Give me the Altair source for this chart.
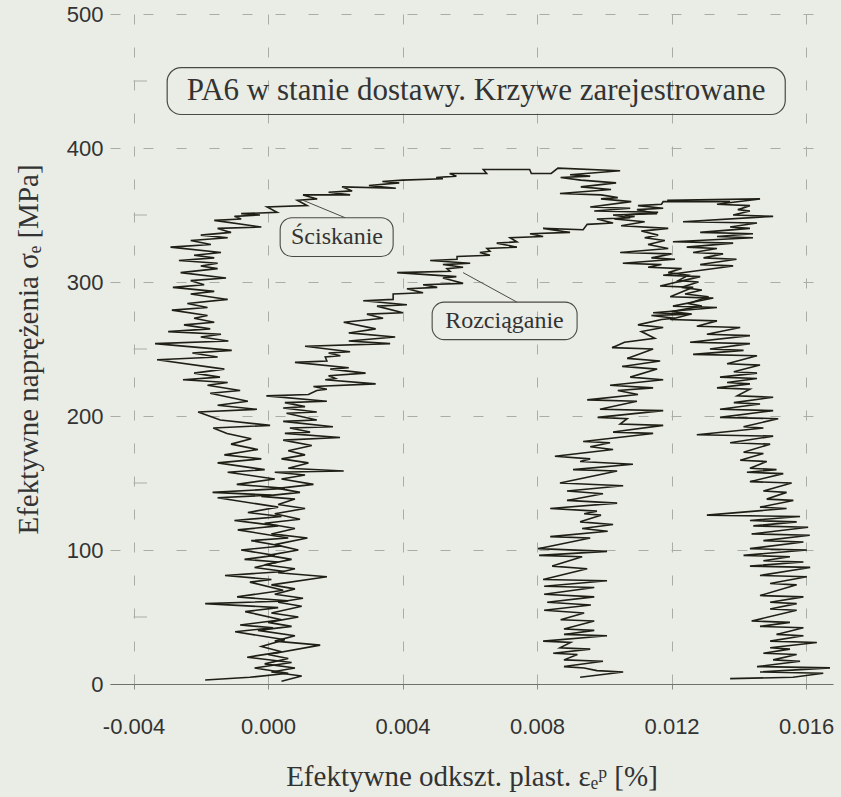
import altair as alt
import pandas as pd

# ---------------- data ----------------
# Compression curve ("Ściskanie"): strain [%], effective stress [MPa], in drawing order
compression_pts = [
    (-0.00187, 3), (-0.00054, 5), (0.00060, 8), (-0.00040, 12), (0.00070, 16), (-0.00062, 20),
    (0.00040, 24), (-0.00020, 28), (0.00050, 33), (-0.00098, 39), (0.00015, 42), (-0.00083, 44),
    (0.00040, 48), (-0.00068, 54), (0.00030, 57), (-0.00187, 60), (0.00060, 62), (-0.00092, 65),
    (0.00045, 70), (-0.00054, 76), (0.00010, 78), (-0.00128, 81), (0.00050, 84), (-0.00040, 87),
    (0.00030, 91), (-0.00070, 93), (0.00020, 96), (-0.00080, 100), (0.00040, 103), (-0.00050, 107),
    (0.00060, 109), (-0.00090, 115), (0.00030, 118), (-0.00100, 122), (0.00040, 125), (-0.00060, 128),
    (0.00030, 132), (-0.00150, 139), (0.00010, 141), (-0.00165, 143), (0.00050, 146), (-0.00093, 149),
    (0.00020, 153), (-0.00120, 158), (-0.00010, 160), (-0.00150, 165), (-0.00020, 168), (-0.00130, 171),
    (-0.00030, 175), (-0.00110, 179), (-0.00050, 183), (-0.00122, 187), (-0.00163, 191), (0.00006, 193),
    (-0.00142, 197), (-0.00208, 203), (-0.00033, 205), (-0.00150, 208), (-0.00060, 211), (-0.00172, 217),
    (-0.00083, 219), (-0.00180, 223), (-0.00120, 225), (-0.00253, 227), (-0.00143, 229), (-0.00220, 232),
    (-0.00130, 235), (-0.00330, 242), (-0.00150, 244), (-0.00225, 247), (-0.00108, 249), (-0.00336, 254),
    (-0.00118, 256), (-0.00200, 259), (-0.00140, 261), (-0.00297, 263), (-0.00172, 265), (-0.00250, 268),
    (-0.00160, 270), (-0.00220, 273), (-0.00180, 275), (-0.00286, 279), (-0.00180, 281), (-0.00240, 284),
    (-0.00120, 287), (-0.00230, 291), (-0.00160, 293), (-0.00283, 296), (-0.00190, 298), (-0.00230, 301),
    (-0.00125, 303), (-0.00260, 307), (-0.00150, 310), (-0.00200, 312), (-0.00150, 314), (-0.00265, 316),
    (-0.00160, 318), (-0.00220, 320), (-0.00140, 322), (-0.00290, 326), (-0.00170, 328), (-0.00230, 331),
    (-0.00120, 333), (-0.00200, 335), (-0.00110, 337), (-0.00150, 340), (-0.00020, 341), (-0.00160, 346),
    (-0.00080, 347), (-0.00100, 349), (-0.00024, 350), (-0.00080, 351), (0.00027, 352), (-0.00003, 356),
    (0.00116, 357), (0.00087, 361), (0.00146, 362), (0.00104, 365), (0.00244, 365), (0.00180, 367),
    (0.00250, 368), (0.00220, 371), (0.00380, 370), (0.00300, 372), (0.00390, 374), (0.00340, 375),
    (0.00400, 376), (0.00520, 377), (0.00500, 378), (0.00560, 379), (0.00540, 381), (0.00650, 381),
    (0.00640, 384), (0.00778, 384), (0.00783, 381), (0.00842, 381), (0.00862, 385), (0.01047, 383),
    (0.00898, 380), (0.00958, 379), (0.00870, 378), (0.00930, 376), (0.01035, 374), (0.00930, 371),
    (0.01020, 369), (0.00868, 366), (0.00990, 365), (0.01040, 363), (0.00990, 362), (0.01080, 360),
    (0.00958, 356), (0.01077, 355), (0.00970, 353), (0.01160, 352), (0.01060, 350), (0.01090, 349),
    (0.01030, 347), (0.01120, 345), (0.01050, 342), (0.01190, 340), (0.01110, 338), (0.01160, 335),
    (0.01120, 333), (0.01180, 331), (0.01130, 328), (0.01190, 325), (0.01047, 322), (0.01200, 321),
    (0.01140, 318), (0.01210, 317), (0.01055, 314), (0.01170, 313), (0.01130, 311), (0.01230, 310),
    (0.01190, 307), (0.01250, 305), (0.01220, 301), (0.01280, 300), (0.01230, 296), (0.01290, 294),
    (0.01240, 291), (0.01310, 289), (0.01250, 284), (0.01290, 282), (0.01200, 278), (0.01260, 276),
    (0.01140, 275), (0.01210, 273), (0.01170, 272), (0.01100, 268), (0.01175, 266), (0.01110, 263),
    (0.01150, 258), (0.01060, 255), (0.01023, 251), (0.01145, 250), (0.01068, 243), (0.01166, 241),
    (0.01053, 237), (0.01157, 235), (0.01077, 229), (0.01175, 227), (0.01017, 223), (0.01145, 221),
    (0.01040, 219), (0.01100, 216), (0.00949, 212), (0.01097, 211), (0.00987, 205), (0.01175, 204),
    (0.00980, 199), (0.01068, 198), (0.01047, 194), (0.01175, 193), (0.01026, 188), (0.01145, 187),
    (0.00937, 181), (0.01017, 180), (0.00958, 177), (0.01026, 175), (0.00853, 170), (0.00958, 168),
    (0.00928, 166), (0.01085, 164), (0.00907, 160), (0.01038, 159), (0.00868, 150), (0.01056, 148),
    (0.00889, 144), (0.00996, 142), (0.00889, 137), (0.01038, 135), (0.00839, 131), (0.00978, 129),
    (0.00940, 127), (0.00990, 126), (0.00928, 121), (0.01026, 119), (0.00934, 116), (0.01010, 114),
    (0.00839, 110), (0.00958, 109), (0.00803, 101), (0.01008, 99), (0.00806, 96), (0.00934, 95),
    (0.00845, 88), (0.00949, 86), (0.00818, 78), (0.01008, 77), (0.00821, 73), (0.00970, 72),
    (0.00821, 67), (0.00970, 65), (0.00830, 61), (0.00960, 59), (0.00821, 55), (0.00940, 53),
    (0.00870, 48), (0.00970, 47), (0.00880, 41), (0.00970, 40), (0.00880, 37), (0.01008, 36),
    (0.00818, 32), (0.00900, 31), (0.00868, 27), (0.00958, 26), (0.00848, 23), (0.00920, 22),
    (0.00880, 18), (0.00996, 17), (0.00880, 13), (0.00940, 12), (0.00978, 10), (0.01056, 9),
    (0.00928, 5),
]

# Tension curve ("Rozciąganie")
tension_pts = [
    (0.00040, 2), (0.00100, 6), (0.00010, 9), (0.00080, 12), (-0.00010, 15), (0.00060, 19),
    (0.00000, 22), (0.00155, 29), (0.00020, 32), (0.00080, 36), (-0.00030, 40), (0.00070, 43),
    (0.00000, 46), (0.00090, 50), (0.00010, 53), (0.00100, 58), (0.00030, 61), (0.00104, 64),
    (0.00020, 67), (0.00080, 71), (0.00010, 74), (0.00175, 80), (0.00030, 83), (0.00080, 86),
    (-0.00010, 89), (0.00070, 93), (0.00000, 96), (0.00090, 100), (0.00020, 104), (0.00117, 109),
    (0.00010, 112), (0.00080, 116), (-0.00010, 120), (0.00095, 123), (0.00020, 127), (0.00110, 131),
    (0.00030, 134), (0.00080, 138), (-0.00020, 140), (0.00095, 143), (0.00030, 146), (0.00135, 149),
    (0.00040, 153), (0.00110, 156), (0.00020, 158), (0.00225, 159), (0.00060, 161), (0.00120, 165),
    (0.00040, 168), (0.00110, 171), (0.00060, 174), (0.00130, 178), (0.00045, 182), (0.00214, 184),
    (0.00050, 187), (0.00125, 188), (0.00065, 191), (0.00193, 192), (0.00045, 196), (0.00145, 197),
    (0.00055, 202), (0.00145, 203), (0.00045, 206), (0.00110, 207), (0.00050, 210), (0.00175, 211),
    (-0.00005, 215), (0.00120, 216), (0.00145, 219), (0.00175, 220), (0.00135, 222), (0.00320, 224),
    (0.00170, 227), (0.00200, 228), (0.00180, 230), (0.00290, 232), (0.00185, 235), (0.00240, 236),
    (0.00080, 240), (0.00175, 241), (0.00170, 244), (0.00215, 245), (0.00180, 247), (0.00244, 248),
    (0.00110, 252), (0.00363, 254), (0.00240, 256), (0.00378, 259), (0.00240, 262), (0.00320, 265),
    (0.00225, 270), (0.00342, 273), (0.00294, 276), (0.00401, 277), (0.00324, 282), (0.00413, 283),
    (0.00283, 286), (0.00372, 287), (0.00372, 291), (0.00461, 292), (0.00413, 295), (0.00503, 296),
    (0.00461, 298), (0.00580, 299), (0.00520, 303), (0.00560, 304), (0.00384, 307), (0.00541, 308),
    (0.00532, 310), (0.00580, 311), (0.00520, 313), (0.00601, 314), (0.00482, 316), (0.00562, 317),
    (0.00562, 319), (0.00660, 320), (0.00630, 322), (0.00660, 323), (0.00651, 325), (0.00740, 326),
    (0.00680, 329), (0.00740, 330), (0.00720, 333), (0.00818, 334), (0.00779, 336), (0.00898, 337),
    (0.00818, 340), (0.00937, 339), (0.00949, 343), (0.01026, 344), (0.00978, 347), (0.01077, 348),
    (0.01026, 350), (0.01157, 351), (0.01097, 354), (0.01175, 355), (0.01100, 357), (0.01170, 358),
    (0.01175, 360), (0.01374, 360), (0.01187, 361), (0.01463, 362), (0.01335, 358), (0.01433, 357),
    (0.01397, 354), (0.01433, 353), (0.01383, 350), (0.01502, 349), (0.01234, 345), (0.01454, 344),
    (0.01374, 341), (0.01433, 340), (0.01285, 337), (0.01442, 336), (0.01335, 334), (0.01442, 333),
    (0.01204, 330), (0.01383, 329), (0.01245, 326), (0.01335, 325), (0.01264, 322), (0.01353, 321),
    (0.01295, 318), (0.01393, 317), (0.01285, 313), (0.01383, 312), (0.01175, 305), (0.01285, 304),
    (0.01166, 297), (0.01264, 296), (0.01196, 289), (0.01324, 288), (0.01204, 282), (0.01335, 281),
    (0.01145, 277), (0.01255, 276), (0.01196, 272), (0.01335, 271), (0.01275, 267), (0.01404, 266),
    (0.01305, 261), (0.01433, 260), (0.01255, 255), (0.01433, 254), (0.01314, 250), (0.01414, 249),
    (0.01264, 246), (0.01454, 245), (0.01365, 239), (0.01463, 238), (0.01385, 233), (0.01454, 232),
    (0.01344, 229), (0.01454, 228), (0.01365, 225), (0.01433, 224), (0.01335, 221), (0.01433, 220),
    (0.01395, 215), (0.01502, 214), (0.01385, 210), (0.01463, 209), (0.01344, 205), (0.01502, 204),
    (0.01344, 199), (0.01517, 198), (0.01414, 192), (0.01473, 191), (0.01275, 186), (0.01502, 185),
    (0.01374, 180), (0.01493, 179), (0.01414, 173), (0.01473, 172), (0.01404, 167), (0.01483, 166),
    (0.01433, 161), (0.01512, 160), (0.01424, 158), (0.01532, 157), (0.01433, 151), (0.01557, 150),
    (0.01473, 144), (0.01542, 143), (0.01483, 138), (0.01562, 137), (0.01463, 132), (0.01542, 131),
    (0.01305, 126), (0.01582, 125), (0.01433, 122), (0.01572, 121), (0.01443, 118), (0.01606, 117),
    (0.01438, 112), (0.01611, 111), (0.01473, 107), (0.01592, 106), (0.01433, 101), (0.01602, 100),
    (0.01414, 96), (0.01552, 95), (0.01473, 92), (0.01592, 91), (0.01433, 88), (0.01612, 87),
    (0.01463, 81), (0.01602, 80), (0.01493, 75), (0.01572, 74), (0.01463, 66), (0.01592, 65),
    (0.01493, 61), (0.01572, 60), (0.01493, 56), (0.01572, 55), (0.01438, 47), (0.01552, 46),
    (0.01463, 43), (0.01592, 42), (0.01512, 37), (0.01592, 36), (0.01493, 32), (0.01632, 31),
    (0.01493, 27), (0.01552, 26), (0.01473, 23), (0.01572, 22), (0.01502, 18), (0.01582, 17),
    (0.01454, 13), (0.01671, 12), (0.01463, 9), (0.01651, 8), (0.01561, 5), (0.01374, 4),
]

x_ticks = [-0.004, 0.000, 0.004, 0.008, 0.012, 0.016]
y_ticks = [0, 100, 200, 300, 400, 500]
y_minor = [50, 150, 250, 350, 450]

title_text = "PA6 w stanie dostawy. Krzywe zarejestrowane"
labels = ["Ściskanie", "Rozciąganie"]
label_x = [0.00205, 0.00703]
label_y = [333.5, 271]
box_x1 = [0.00036, 0.00488]
box_x2 = [0.00372, 0.00919]
box_y1 = [319, 257]
box_y2 = [348, 285]
lead_x1 = [0.00229, 0.00740]
lead_y1 = [348, 285]
lead_x2 = [0.00104, 0.00580]
lead_y2 = [361, 307]

# ---------------- build ----------------
BG = "#e9ede5"
INK = "#1f1f16"
TXT = "#333333"
GRID = "#a9ada5"

rows = []
for name, pts in (("Ściskanie", compression_pts), ("Rozciąganie", tension_pts)):
    for i, (xv, yv) in enumerate(pts):
        rows.append({"curve": name, "i": i, "x": xv, "y": yv})
df = pd.DataFrame(rows)

xs = alt.Scale(domain=[-0.0047, 0.0168], nice=False, zero=False)
ys = alt.Scale(domain=[0, 500], nice=False, zero=False)

x_axis = alt.Axis(
    values=x_ticks, labelExpr="replace(format(datum.value, '.3f'), '\u2212', '-')",
    title="Efektywne odkszt. plast.  εₑᵖ  [%]",
    grid=True, gridDash=[10, 23], gridColor=GRID, gridWidth=1,
    domain=True, domainColor="#6f726c", domainWidth=1,
    ticks=True, tickSize=5, tickColor="#8a8d86",
    labelFont="Liberation Sans", labelFontSize=22, labelColor=TXT, labelPadding=27,
    titleFont="Liberation Serif", titleFontSize=29, titleFontWeight="normal", titleColor=TXT,
    titleY=92, titleBaseline="middle",
)
y_axis = alt.Axis(
    values=y_ticks, title="Efektywne naprężenia  σₑ  [MPa]",
    grid=True, gridDash=[10, 23], gridColor=GRID, gridWidth=1,
    domain=False, ticks=False,
    labelFont="Liberation Sans", labelFontSize=22, labelColor=TXT, labelPadding=7,
    titleFont="Liberation Serif", titleFontSize=29, titleFontWeight="normal", titleColor=TXT,
    titleX=-82, titleBaseline="middle",
)

curves = alt.Chart(df).mark_line(color=INK, strokeWidth=1.6, clip=True).encode(
    x=alt.X("x:Q", scale=xs, axis=x_axis),
    y=alt.Y("y:Q", scale=ys, axis=y_axis),
    detail="curve:N",
    order="i:Q",
)

minor = alt.Chart(pd.DataFrame({"y": y_minor})).mark_rule(color=GRID, strokeWidth=1).encode(
    x=alt.datum(-0.0040, scale=xs), x2=alt.datum(-0.0036), y=alt.Y("y:Q", scale=ys)
)

title_df = pd.DataFrame({"t": [title_text], "x": [0.00619], "y": [442.5],
                         "x1": [-0.0030], "x2": [0.01538], "y1": [425], "y2": [460]})
title_box = alt.Chart(title_df).mark_rect(
    fillOpacity=0, stroke="#4a4a44", strokeWidth=1.2, cornerRadius=14
).encode(x=alt.X("x1:Q", scale=xs), x2="x2:Q", y=alt.Y("y1:Q", scale=ys), y2="y2:Q")
title_txt = alt.Chart(title_df).mark_text(
    font="Liberation Serif", fontSize=31, color=TXT, baseline="middle", align="center"
).encode(x=alt.X("x:Q", scale=xs), y=alt.Y("y:Q", scale=ys), text="t:N")

ann = pd.DataFrame({"t": labels, "x": label_x, "y": label_y,
                    "bx1": box_x1, "bx2": box_x2, "by1": box_y1, "by2": box_y2,
                    "lx1": lead_x1, "ly1": lead_y1, "lx2": lead_x2, "ly2": lead_y2})
ann_box = alt.Chart(ann).mark_rect(
    fillOpacity=0, stroke="#4a4a44", strokeWidth=1.1, cornerRadius=12
).encode(x=alt.X("bx1:Q", scale=xs), x2="bx2:Q", y=alt.Y("by1:Q", scale=ys), y2="by2:Q")
ann_txt = alt.Chart(ann).mark_text(
    font="Liberation Serif", fontSize=24, color=TXT, baseline="middle", align="center"
).encode(x=alt.X("x:Q", scale=xs), y=alt.Y("y:Q", scale=ys), text="t:N")
ann_lead = alt.Chart(ann).mark_rule(color="#4a4a44", strokeWidth=1).encode(
    x=alt.X("lx1:Q", scale=xs), y=alt.Y("ly1:Q", scale=ys), x2="lx2:Q", y2="ly2:Q"
)

chart = alt.layer(minor, curves, title_box, title_txt, ann_lead, ann_box, ann_txt).properties(
    width=723, height=670,
    padding={"left": 110, "top": 14, "right": 8, "bottom": 113},
    autosize=alt.AutoSizeParams(type="none"),
    background=BG,
).configure_view(stroke=None, fill=BG)

chart.save("out.html", embed_options={"renderer": "svg", "actions": False})
